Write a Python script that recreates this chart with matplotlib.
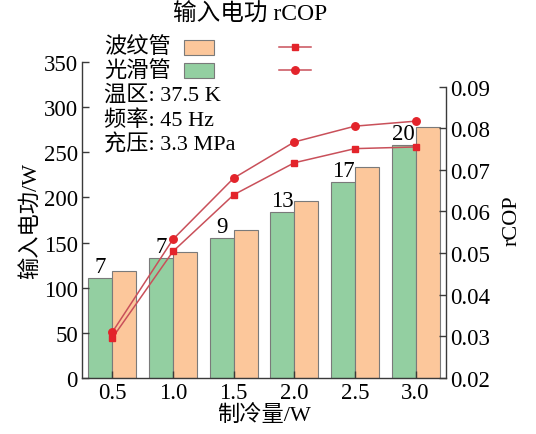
"""
Input power (bars) and rCOP (lines) vs. cooling capacity — corrugated vs. smooth tube.
"""
import matplotlib
matplotlib.use("Agg")
import matplotlib.pyplot as plt
from matplotlib.patches import Rectangle
from matplotlib.lines import Line2D
import numpy as np

plt.rcParams["font.family"] = ["Liberation Serif", "Noto Sans CJK SC"]
plt.rcParams["font.size"] = 16
plt.rcParams["axes.unicode_minus"] = False

# Datos
cooling = ["0.5", "1.0", "1.5", "2.0", "2.5", "3.0"]
power_smooth = [111, 133, 155, 184, 217, 258]
power_corrug = [118, 139, 164, 196, 234, 278]
rcop_smooth = [0.0310, 0.0533, 0.0680, 0.0767, 0.0805, 0.0817]
rcop_corrug = [0.0296, 0.0504, 0.0640, 0.0717, 0.0751, 0.0755]
bar_notes = ["7", "7", "9", "13", "17", "20"]
conditions = ["温区: 37.5 K", "频率: 45 Hz", "充压: 3.3 MPa"]

GREEN = "#93cfa1"
ORANGE = "#fcc79b"
EDGE = "#7a7a7a"
LINE = "#c9505a"
MARK = "#e3242b"
SPINE = "#3a3a3a"
MS = {"s": 4.8, "o": 5.4}

fig = plt.figure(figsize=(5.36, 4.35), dpi=100)
ax = fig.add_axes([0.153, 0.129, 0.679, 0.726])
ax2 = ax.twinx()

x = np.arange(len(cooling))
w = 0.395
ax.bar(x - w / 2, power_smooth, w, color=GREEN, edgecolor=EDGE, linewidth=0.8)
ax.bar(x + w / 2, power_corrug, w, color=ORANGE, edgecolor=EDGE, linewidth=0.8)
for xi, v, t in zip(x, power_smooth, bar_notes):
    ax.text(xi - w / 2, v + 1, t, ha="center", va="bottom", fontsize=16.5)

ax2.plot(x, rcop_corrug, color=LINE, lw=1.1, marker="s", ms=MS["s"],
         mfc=MARK, mec=MARK)
ax2.plot(x, rcop_smooth, color=LINE, lw=1.1, marker="o", ms=MS["o"],
         mfc=MARK, mec=MARK)

ax.set_xlim(-0.5, 5.5)
ax.set_ylim(0, 350)
ax.set_yticks(range(0, 351, 50))
ax.set_xticks(x)
ax.set_xticklabels(cooling)
ax2.set_ylim(0.02, 0.0959)
ax2.set_yticks(np.arange(0.02, 0.0901, 0.01))
ax2.set_yticklabels([f"{v:.2f}" for v in np.arange(0.02, 0.0901, 0.01)])
ax2.spines["right"].set_bounds(0.02, 0.09)

for a in (ax, ax2):
    a.spines["top"].set_visible(False)
    for s in a.spines.values():
        s.set_color(SPINE)
        s.set_linewidth(1.0)
ax2.spines["left"].set_visible(False)
ax2.spines["bottom"].set_visible(False)
ax.spines["right"].set_visible(False)
ax.tick_params(axis="both", direction="in", length=5, width=1, color=SPINE,
               pad=3, labelsize=16.5)
ax2.tick_params(axis="y", direction="in", length=5, width=1, color=SPINE,
                pad=3, labelsize=16.5)

ax.set_xlabel("制冷量/W", fontsize=16, labelpad=1)
ax.set_ylabel("输入电功/W", fontsize=16, labelpad=2)
ax2.set_ylabel("rCOP", fontsize=16, labelpad=9)

# Leyenda dibujada a mano (encabezado, muestras y condiciones)
fig.text(250 / 536, 1 - 15 / 435, "输入电功 rCOP", ha="center", va="center", fontsize=17)
rows = [("波纹管", ORANGE, "s", 48), ("光滑管", GREEN, "o", 71)]
for label, col, mk, ypx in rows:
    yf = 1 - ypx / 435
    fig.text(104 / 536, yf, label, ha="left", va="center", fontsize=16)
    fig.patches.append(Rectangle((184 / 536, yf - 7.5 / 435), 30 / 536, 15 / 435,
                                 transform=fig.transFigure, facecolor=col,
                                 edgecolor=EDGE, linewidth=0.8))
    fig.lines.append(Line2D([279 / 536, 311 / 536], [yf, yf], transform=fig.transFigure,
                            color=LINE, lw=1.1))
    fig.lines.append(Line2D([295 / 536], [yf], transform=fig.transFigure, marker=mk,
                            ms=MS[mk], mfc=MARK, mec=MARK, ls="none"))
for i, t in enumerate(conditions):
    fig.text(104 / 536, 1 - (96 + 24.5 * i) / 435, t, ha="left", va="center", fontsize=16)

fig.savefig("out.png", dpi=100)
